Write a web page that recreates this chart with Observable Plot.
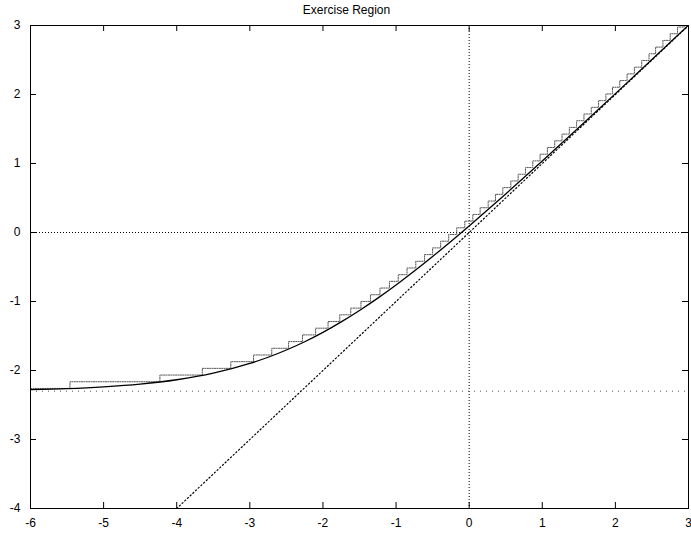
<!DOCTYPE html>
<html>
<head>
<meta charset="utf-8">
<script src="https://cdn.jsdelivr.net/npm/d3@7"></script>
<script src="https://cdn.jsdelivr.net/npm/@observablehq/plot@0.6"></script>
<style>
  html, body { margin: 0; padding: 0; background: #fff; }
  #chart { width: 691px; height: 538px; }
</style>
</head>
<body>
<div id="chart"></div>
<script>
const titleText = "Exercise Region";
const xTicks = [-6, -5, -4, -3, -2, -1, 0, 1, 2, 3];
const yTicks = [-4, -3, -2, -1, 0, 1, 2, 3];

// Smooth boundary curve (solid)
const curveX = [-6, -5.5, -5, -4.5, -4, -3.5, -3, -2.75, -2.5, -2.25, -2, -1.75, -1.5, -1.25, -1, -0.75, -0.5, -0.25, 0, 0.25, 0.5, 0.75, 1, 1.5, 2, 2.5, 3];
const curveY = [-2.278, -2.263, -2.237, -2.197, -2.134, -2.039, -1.898, -1.808, -1.703, -1.583, -1.447, -1.295, -1.130, -0.951, -0.760, -0.558, -0.347, -0.129, 0.095, 0.325, 0.559, 0.796, 1.036, 1.522, 2.013, 2.508, 3.005];

// Staircase (dotted grey): riser positions and levels
const stepX = [-6, -5.46, -4.23, -3.65, -3.26, -2.95, -2.70, -2.47, -2.28, -2.10, -1.93, -1.77, -1.62, -1.48, -1.35, -1.22, -1.09, -0.97, -0.85, -0.73, -0.61, -0.50, -0.39, -0.28, -0.17, -0.06, 0.05, 0.15, 0.26, 0.36, 0.46, 0.57, 0.67, 0.77, 0.87, 0.97, 1.07, 1.17, 1.27, 1.37, 1.47, 1.57, 1.67, 1.77, 1.87, 1.96, 2.06, 2.16, 2.26, 2.36, 2.46, 2.55, 2.65, 2.75, 2.85, 2.94, 3];
const stepY = [-2.26, -2.163, -2.066, -1.969, -1.872, -1.775, -1.678, -1.581, -1.484, -1.387, -1.29, -1.193, -1.096, -0.999, -0.902, -0.805, -0.708, -0.611, -0.514, -0.417, -0.32, -0.223, -0.126, -0.029, 0.068, 0.165, 0.262, 0.359, 0.456, 0.553, 0.65, 0.747, 0.844, 0.941, 1.038, 1.135, 1.232, 1.329, 1.426, 1.523, 1.62, 1.717, 1.814, 1.911, 2.008, 2.105, 2.202, 2.299, 2.396, 2.493, 2.59, 2.687, 2.784, 2.881, 2.978, 3.075, 3.075];

// Diagonal asymptote (dotted)
const diagX = [-4, 3];
const diagY = [-4, 3];

// Horizontal floor level (dotted)
const floorY = [-2.3];

const curveData = curveX.map((x, i) => ({x, y: curveY[i]}));
const stepData = stepX.map((x, i) => ({x, y: stepY[i]}));
const diagData = diagX.map((x, i) => ({x, y: diagY[i]}));

const font = "'Liberation Sans', Arial, Helvetica, sans-serif";
const W = 691, H = 538, ML = 30, MR = 3, MT = 25, MB = 30;
const innerW = W - ML - MR, innerH = H - MT - MB, tick = 6;
const fmt = d => String(d);

const chart = Plot.plot({
  width: W,
  height: H,
  marginLeft: ML,
  marginRight: MR,
  marginTop: MT,
  marginBottom: MB,
  style: {fontFamily: font, fontSize: "12px", background: "#fff", color: "#000"},
  x: {domain: [-6, 3]},
  y: {domain: [-4, 3]},
  marks: [
    Plot.ruleX([0], {stroke: "#000", strokeWidth: 1, strokeDasharray: "1,2"}),
    Plot.ruleY([0], {stroke: "#000", strokeWidth: 1, strokeDasharray: "1,2"}),
    Plot.ruleY(floorY, {stroke: "#555", strokeWidth: 1, strokeDasharray: "1,5"}),
    Plot.line(diagData, {x: "x", y: "y", stroke: "#000", strokeWidth: 1.2, strokeDasharray: "1.2,2.5", clip: true}),
    Plot.line(stepData, {x: "x", y: "y", curve: "step-after", stroke: "#555", strokeWidth: 1, strokeDasharray: "1.2,1.2", clip: true}),
    Plot.line(curveData, {x: "x", y: "y", curve: "monotone-x", stroke: "#000", strokeWidth: 1.3, clip: true}),
    Plot.frame({stroke: "#000", strokeWidth: 1}),
    // inward ticks on all four sides
    Plot.tickX(xTicks, {x: d => d, insetTop: innerH - tick, stroke: "#000"}),
    Plot.tickX(xTicks, {x: d => d, insetBottom: innerH - tick, stroke: "#000"}),
    Plot.tickY(yTicks, {y: d => d, insetRight: innerW - tick, stroke: "#000"}),
    Plot.tickY(yTicks, {y: d => d, insetLeft: innerW - tick, stroke: "#000"}),
    Plot.axisX(xTicks, {anchor: "bottom", tickSize: 0, tickPadding: 10, tickFormat: fmt, fontSize: 12, label: null}),
    Plot.axisY(yTicks, {anchor: "left", tickSize: 0, tickPadding: 10, tickFormat: fmt, fontSize: 12, label: null}),
    Plot.text([titleText], {frameAnchor: "top", lineAnchor: "middle", dy: -15, dx: -13, fontSize: 12, fill: "#000"})
  ]
});

document.getElementById("chart").appendChild(chart);
</script>
</body>
</html>
